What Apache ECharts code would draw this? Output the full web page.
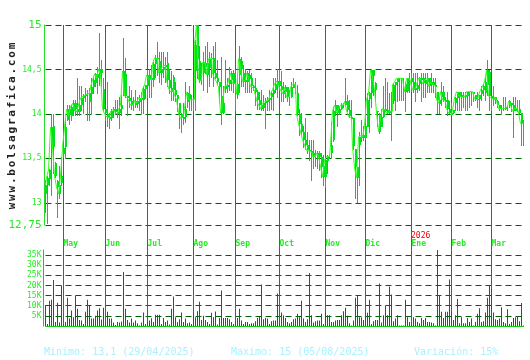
<!DOCTYPE html>
<html><head><meta charset="utf-8">
<script src="https://cdn.jsdelivr.net/npm/echarts@6/dist/echarts.min.js"></script>
<style>html,body{margin:0;padding:0;background:#fff}#c{width:530px;height:360px}</style>
</head><body><div id="c"></div>
<script>
const monthLabels = ['May','Jun','Jul','Ago','Sep','Oct','Nov','Dic','Ene','Feb','Mar'];
const monthStarts = [9,30,51,74,95,117,140,160,183,203,223];
const yearLabel = '2026';
const statMin = 'Minimo: 13,1 (29/04/2025)';
const statMax = 'Maximo: 15 (05/08/2025)';
const statVar = 'Variación: 15%';
const siteText = 'www.bolsagrafica.com';

const open = [13.10,13.20,13.27,13.60,13.86,13.45,13.25,13.20,13.22,13.55,
13.62,13.93,14.05,13.98,14.03,14.12,14.05,14.02,14.10,14.18,
14.20,14.22,14.13,14.22,14.30,14.35,14.45,14.40,14.50,14.28,
14.05,14.00,13.97,13.95,14.03,14.05,14.02,14.00,14.05,14.22,
14.45,14.20,14.18,14.15,14.10,14.10,14.15,14.14,14.18,14.16,
14.28,14.32,14.44,14.40,14.38,14.56,14.63,14.59,14.46,14.50,
14.53,14.57,14.38,14.29,14.42,14.27,14.21,14.12,14.00,13.95,
13.97,14.14,14.22,14.16,14.16,14.49,14.62,14.60,14.38,14.46,
14.52,14.57,14.52,14.62,14.63,14.46,14.40,14.36,14.20,14.01,
14.28,14.31,14.33,14.38,14.46,14.34,14.34,14.44,14.60,14.46,
14.36,14.36,14.44,14.40,14.31,14.29,14.25,14.16,14.10,14.06,
14.12,14.14,14.16,14.18,14.23,14.27,14.33,14.37,14.31,14.27,
14.24,14.30,14.19,14.19,14.30,14.33,14.23,14.00,13.89,13.80,
13.71,13.65,13.59,13.58,13.56,13.52,13.52,13.56,13.52,13.41,
13.29,13.48,13.52,13.56,13.70,14.03,14.10,14.01,14.06,14.10,
14.10,14.14,14.04,13.97,13.95,13.60,13.40,13.65,13.74,13.76,
13.73,13.86,14.16,14.23,14.49,14.35,14.03,13.99,13.86,13.97,
14.06,14.04,14.01,14.03,14.15,14.33,14.36,14.40,14.40,14.40,
14.34,14.25,14.40,14.40,14.36,14.27,14.29,14.33,14.40,14.40,
14.34,14.35,14.40,14.33,14.36,14.33,14.25,14.16,14.19,14.25,
14.16,14.16,14.06,14.01,14.01,14.12,14.18,14.25,14.21,14.19,
14.19,14.21,14.25,14.25,14.25,14.21,14.17,14.16,14.22,14.27,
14.24,14.32,14.47,14.20,14.18,14.16,14.10,14.10,14.06,14.06,
14.06,14.08,14.08,14.12,14.10,14.04,14.06,14.05,14.01,13.89];

const close = [13.20,13.28,13.37,13.85,13.62,13.30,13.18,13.10,13.30,13.62,
13.85,14.05,13.98,14.08,14.12,14.05,14.02,14.10,14.18,14.20,
14.22,14.22,14.23,14.30,14.38,14.45,14.40,14.50,14.45,14.06,
14.00,13.97,13.95,14.03,14.05,14.02,14.00,14.05,14.10,14.48,
14.20,14.18,14.15,14.10,14.10,14.15,14.12,14.18,14.16,14.28,
14.32,14.44,14.40,14.38,14.56,14.63,14.62,14.46,14.50,14.53,
14.55,14.38,14.29,14.25,14.27,14.21,14.16,14.01,13.95,13.97,
14.06,14.24,14.16,14.16,14.16,14.78,15.00,14.38,14.38,14.58,
14.57,14.44,14.62,14.63,14.46,14.40,14.36,14.30,14.01,14.12,
14.31,14.33,14.38,14.46,14.34,14.34,14.22,14.62,14.51,14.36,
14.38,14.46,14.40,14.31,14.29,14.25,14.16,14.10,14.06,14.12,
14.14,14.16,14.18,14.23,14.27,14.34,14.37,14.31,14.27,14.23,
14.30,14.19,14.19,14.30,14.33,14.33,14.00,13.89,13.80,13.71,
13.65,13.59,13.58,13.56,13.52,13.52,13.56,13.52,13.41,13.29,
13.48,13.52,13.52,13.65,14.03,14.10,14.01,14.06,14.10,14.10,
14.14,14.04,13.97,13.95,13.63,13.40,13.28,13.74,13.76,13.73,
13.86,14.16,14.23,14.49,14.42,14.27,14.02,13.80,13.97,14.06,
14.04,14.01,14.03,14.03,14.33,14.36,14.40,14.40,14.40,14.40,
14.25,14.40,14.40,14.36,14.27,14.29,14.33,14.40,14.38,14.34,
14.38,14.40,14.31,14.36,14.33,14.31,14.16,14.12,14.25,14.16,
14.14,14.06,14.01,13.99,14.04,14.18,14.25,14.21,14.19,14.19,
14.21,14.25,14.25,14.25,14.23,14.17,14.16,14.21,14.27,14.31,
14.36,14.49,14.20,14.18,14.16,14.19,14.15,14.06,14.06,14.06,
14.08,14.08,14.14,14.10,14.03,14.06,14.06,14.01,13.89,13.89];

const low = [12.90,12.77,13.20,13.09,13.33,13.29,12.84,13.05,13.20,13.52,
13.50,13.93,13.89,13.93,13.99,13.99,13.99,13.99,14.04,14.01,
14.14,13.93,13.93,14.01,14.23,14.31,14.23,14.33,14.31,14.04,
13.93,13.86,13.84,13.93,13.97,14.00,13.97,13.84,13.99,14.21,
14.19,13.99,14.08,14.06,14.04,14.08,14.08,14.04,14.01,14.01,
14.18,14.19,14.19,14.19,14.31,14.42,14.44,14.36,14.34,14.42,
14.36,14.31,14.23,14.16,14.16,14.14,14.03,13.84,13.80,13.89,
13.91,14.08,14.04,14.04,14.04,14.04,14.40,14.36,14.34,14.27,
14.46,14.25,14.31,14.42,14.31,14.40,14.34,14.14,13.89,14.01,
14.25,14.25,14.27,14.27,14.25,14.04,14.18,14.25,14.31,14.31,
14.25,14.25,14.25,14.25,14.27,14.10,14.06,14.06,14.04,14.04,
13.84,14.04,14.04,14.06,14.04,14.25,14.19,14.27,14.14,14.14,
14.19,14.14,14.10,14.19,14.30,14.23,13.99,13.76,13.76,13.63,
13.61,13.56,13.48,13.26,13.39,13.41,13.39,13.37,13.29,13.20,
13.18,13.33,13.50,13.50,13.70,13.99,13.86,14.00,14.05,14.08,
14.10,14.03,13.97,13.93,13.61,13.05,13.01,13.20,13.69,13.71,
13.72,13.86,13.80,14.08,14.21,14.16,13.86,13.78,13.86,13.97,
14.03,14.01,14.01,13.71,14.12,14.04,14.14,14.16,14.16,14.16,
14.03,14.25,14.25,14.27,14.25,14.14,14.25,14.27,14.14,14.19,
14.19,14.25,14.25,14.25,14.25,14.19,14.01,14.01,14.10,14.14,
14.08,13.99,14.01,13.99,14.01,14.04,14.04,14.04,14.04,14.08,
14.04,14.04,14.08,14.10,14.14,14.16,14.08,14.04,14.16,14.21,
14.16,14.21,14.04,14.04,14.10,14.12,14.08,14.04,14.01,14.04,
14.06,14.04,14.08,14.03,13.74,14.04,14.03,14.01,13.65,13.65];

const high = [13.26,13.30,13.38,14.00,14.00,13.46,13.26,13.41,13.52,13.65,
13.93,14.10,14.10,14.10,14.16,14.16,14.40,14.31,14.31,14.22,
14.29,14.27,14.29,14.40,14.40,14.46,14.53,14.91,14.61,14.40,
14.06,14.36,14.01,14.06,14.08,14.16,14.16,14.19,14.21,14.85,
14.63,14.20,14.31,14.27,14.19,14.27,14.19,14.21,14.25,14.31,
14.33,14.49,14.51,14.55,14.58,14.66,14.81,14.70,14.70,14.70,
14.64,14.70,14.51,14.48,14.44,14.36,14.21,14.12,14.01,14.12,
14.36,14.25,14.31,14.21,14.18,14.83,15.00,14.76,14.57,14.70,
14.76,14.81,14.70,14.68,14.76,14.81,14.61,14.36,14.64,14.31,
14.61,14.40,14.53,14.48,14.49,14.49,14.44,14.76,14.64,14.55,
14.51,14.48,14.49,14.46,14.33,14.40,14.27,14.25,14.27,14.21,
14.18,14.19,14.27,14.25,14.40,14.40,14.51,14.49,14.48,14.36,
14.33,14.30,14.27,14.36,14.40,14.36,14.33,14.06,14.01,13.86,
13.95,13.80,13.71,13.71,13.71,13.59,13.58,13.58,13.56,13.54,
13.50,13.54,13.54,13.91,14.08,14.16,14.10,14.08,14.12,14.12,
14.40,14.21,14.16,14.16,13.95,13.61,13.40,13.80,13.93,13.86,
14.16,14.23,14.25,14.49,14.49,14.36,14.03,14.01,14.06,14.31,
14.40,14.36,14.23,14.25,14.34,14.36,14.40,14.40,14.40,14.40,
14.36,14.40,14.46,14.46,14.46,14.46,14.46,14.42,14.46,14.46,
14.46,14.46,14.40,14.46,14.40,14.40,14.25,14.19,14.36,14.31,
14.19,14.25,14.14,14.12,14.04,14.19,14.25,14.25,14.25,14.25,
14.25,14.25,14.25,14.25,14.25,14.21,14.25,14.21,14.31,14.34,
14.40,14.61,14.49,14.20,14.31,14.19,14.16,14.10,14.10,14.19,
14.19,14.10,14.16,14.12,14.19,14.19,14.16,14.16,14.01,13.93];

const volumeK = [10.3,1.0,12.5,13.0,22.7,2.0,11.5,1.7,20.0,1.0,
2.0,14.0,3.7,7.7,4.3,15.0,8.5,3.0,2.7,1.0,
7.0,13.0,10.0,3.7,3.7,5.0,7.7,8.7,3.2,9.0,
2.0,7.0,3.7,3.7,1.7,0.5,2.0,1.7,2.2,26.7,
8.5,3.0,1.7,3.7,1.7,2.7,1.3,0.3,1.7,6.7,
1.0,2.0,2.7,3.8,2.0,5.5,5.5,5.5,1.0,4.0,
2.0,2.7,0.7,8.5,14.5,4.3,2.0,3.3,6.7,2.0,
3.7,1.3,1.7,1.0,7.0,4.3,7.3,12.0,3.0,5.0,
3.0,2.0,1.0,6.5,4.3,7.2,0.7,4.0,17.5,4.0,
4.0,4.0,3.3,2.0,1.0,2.0,4.0,8.5,2.7,1.0,
2.0,2.0,1.0,1.3,1.3,2.3,4.0,4.7,20.5,3.3,
4.0,3.7,1.0,2.3,2.7,2.7,16.0,2.0,6.7,5.3,
4.0,2.0,1.3,2.0,3.3,3.7,6.0,4.3,12.5,3.7,
2.0,3.3,26.2,5.3,1.7,2.3,2.7,2.7,6.0,1.0,
6.0,5.3,5.3,2.0,2.0,2.7,3.0,3.0,5.3,7.3,
9.0,5.0,1.3,0.3,2.7,14.0,15.3,4.3,4.3,3.0,
6.5,6.5,13.0,1.0,2.3,3.0,3.0,21.0,1.7,5.3,
10.0,5.3,19.5,15.5,2.3,3.7,5.3,0.3,0.3,0.3,
13.0,4.3,2.0,2.0,4.3,3.7,2.0,1.3,4.0,3.0,
4.0,2.0,2.0,1.7,1.3,0.3,38.0,15.3,7.0,4.0,
7.0,7.0,23.0,7.3,3.0,5.3,13.3,1.3,4.3,1.3,
1.3,4.0,2.0,3.7,0.3,2.0,6.0,8.7,2.0,2.3,
6.7,14.0,20.0,18.3,6.7,3.3,3.0,3.7,9.3,2.0,
1.3,8.3,1.0,2.0,4.0,4.3,4.7,2.3,11.3,0.3];

const days = close.map((_, i) => String(i));
const monthName = {};
monthStarts.forEach((d, k) => { monthName[d] = monthLabels[k]; });
const isMonthStart = (i) => monthName[i] !== undefined;

const FONT = 'DejaVu Sans Mono';
const LBL = '#22ee22';
const DASH = '#005f00';
const VLINE = '#1a861a';
const TEAL = '#1ea3b0';
const BODY = '#00e01c';
const CLOSE = '#2bff14';

const chart = echarts.init(document.getElementById('c'), null, {renderer: 'canvas'});

const G = DASH, T = 'rgba(0,0,0,0)';

const siteChars = siteText.split('').map((ch, k) => ({
  type: 'text', x: 12, y: 206 - k * 8.42, rotation: Math.PI / 2,
  style: {text: ch, font: 'bold 11px "' + FONT + '"', fill: '#222', align: 'center', verticalAlign: 'middle'}
}));

const option = {
  animation: false,
  backgroundColor: '#fff',
  grid: [
    {left: 45.5, right: 6.5, top: 25, bottom: 135},
    {left: 45.5, right: 6.5, top: 250, bottom: 34},
    {left: 45.5, right: 6.5, top: 25, bottom: 34}
  ],
  xAxis: [
    {gridIndex: 0, type: 'category', data: days, boundaryGap: false,
     axisLine: {show: false}, axisTick: {show: false}, splitLine: {show: false},
     axisLabel: {interval: (i) => isMonthStart(i), formatter: (v, i) => monthName[i] || '',
       color: LBL, fontFamily: FONT, fontSize: 8, fontWeight: 'bold', align: 'left', margin: 15}},
    {gridIndex: 1, type: 'category', data: days, boundaryGap: false,
     axisLine: {show: true, lineStyle: {color: '#11cc11', width: 1}}, axisTick: {show: false},
     axisLabel: {show: false}, splitLine: {show: false}},
    {gridIndex: 2, type: 'category', data: days, boundaryGap: false,
     axisLine: {show: false}, axisTick: {show: false}, axisLabel: {show: false},
     splitLine: {show: true, interval: (i) => isMonthStart(i), lineStyle: {color: VLINE, width: 1}}}
  ],
  yAxis: [
    {gridIndex: 0, type: 'value', min: 12.75, max: 15, interval: 0.25, offset: 1,
     axisLine: {show: true, lineStyle: {color: '#22dd22'}}, axisTick: {show: false},
     axisLabel: {margin: 3,
       formatter: (v) => {
         const s = String(v).replace('.', ',');
         if (v === 15 || v === 12.75) return '{b|' + s + '}';
         if ((v * 2) % 1 === 0) return '{s|' + s + '}';
         return '';
       },
       rich: {b: {fontSize: 11, fontFamily: FONT, color: LBL}, s: {fontSize: 8, fontFamily: FONT, color: LBL}}},
     splitLine: {show: true, lineStyle: {color: [G, G, T, G, T, G, T, G, T, G], type: [6, 4], width: 1}}},
    {gridIndex: 1, type: 'value', min: 0, max: 37.5, interval: 5, offset: 2,
     axisLine: {show: true, lineStyle: {color: '#11cc11'}}, axisTick: {show: false},
     axisLabel: {margin: 2, color: LBL, fontFamily: FONT, fontSize: 8,
       formatter: (v) => (v > 0 && v <= 35) ? (v + 'K') : ''},
     splitLine: {show: true, lineStyle: {color: [T, G, G, G, G, G, G, G, T], type: [6, 4], width: 1}}},
    {gridIndex: 2, type: 'value', show: false}
  ],
  series: [
    {type: 'custom', xAxisIndex: 0, yAxisIndex: 0, z: 3,
     data: days.map((d, i) => [i, open[i], close[i], low[i], high[i]]),
     encode: {x: 0, y: [1, 2, 3, 4]},
     renderItem: (params, api) => {
       const i = api.value(0);
       const lo = api.coord([i, api.value(3)]);
       const hi = api.coord([i, api.value(4)]);
       const o = api.coord([i, api.value(1)]);
       const c = api.coord([i, api.value(2)]);
       const x = Math.floor(lo[0]);
       const yTop = Math.round(hi[1]);
       const yBot = Math.round(lo[1]) + 1;
       return {type: 'group', children: [
         {type: 'rect', shape: {x: x, y: yTop, width: 1, height: yBot - yTop},
          style: {fill: TEAL, stroke: null}},
         {type: 'rect', shape: {x: x, y: Math.round(Math.min(o[1], c[1])), width: 2,
            height: Math.max(0, Math.round(Math.abs(o[1] - c[1])))}, style: {fill: BODY, stroke: null}}
       ]};
     }},
    {type: 'line', xAxisIndex: 0, yAxisIndex: 0, z: 4, data: close, step: 'middle',
     showSymbol: false, symbol: 'none', lineStyle: {color: CLOSE, width: 1}},
    {type: 'bar', xAxisIndex: 1, yAxisIndex: 1, data: volumeK, barWidth: 1,
     itemStyle: {color: '#ee0000'}}
  ],
  graphic: [
    ...siteChars,
    {type: 'text', x: 411, y: 236, style: {text: yearLabel, font: '8px "' + FONT + '"', fill: '#ee0000', align: 'left', verticalAlign: 'middle'}},
    {type: 'text', x: 44, y: 352, style: {text: statMin, font: '10px "' + FONT + '"', fill: '#a6f2ff', align: 'left', verticalAlign: 'middle'}},
    {type: 'text', x: 231, y: 352, style: {text: statMax, font: '10px "' + FONT + '"', fill: '#a6f2ff', align: 'left', verticalAlign: 'middle'}},
    {type: 'text', x: 414, y: 352, style: {text: statVar, font: '10px "' + FONT + '"', fill: '#a6f2ff', align: 'left', verticalAlign: 'middle'}}
  ]
};
chart.setOption(option);
</script>
</body></html>
